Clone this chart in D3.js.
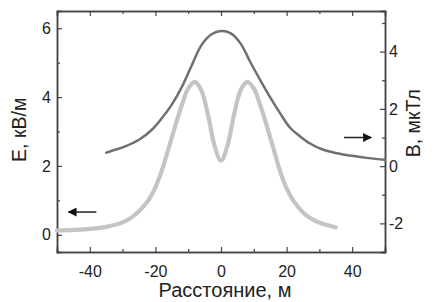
<!DOCTYPE html>
<html>
<head>
<meta charset="utf-8">
<script src="https://cdn.jsdelivr.net/npm/d3@7"></script>
<style>
  body { margin: 0; background: #fff; }
  text { font-family: "Liberation Sans", Arial, sans-serif; fill: #222; }
</style>
</head>
<body>
<svg class="chart"></svg>
<script>
// E field (left axis), kV/m
var eX = [-50, -45, -40, -35, -30, -27, -24, -22, -20, -18, -16, -14, -12, -10, -8, -6, -4, -2, 0,
          2, 4, 6, 8, 10, 12, 14, 16, 18, 20, 22, 25, 28, 31, 35];
var eY = [0.12, 0.14, 0.17, 0.23, 0.36, 0.52, 0.78, 1.02, 1.38, 1.88, 2.5, 3.15, 3.75, 4.25, 4.44, 4.2, 3.5, 2.6, 2.15,
          2.6, 3.5, 4.2, 4.44, 4.25, 3.75, 3.15, 2.5, 1.85, 1.35, 1.0, 0.65, 0.44, 0.32, 0.22];
// B field (right axis), uT
var bX = [-35, -32, -29, -25, -21, -18, -15, -12, -9, -6, -3, 0, 3, 6, 9, 12, 15, 18, 21, 24, 27, 31, 35, 40, 45, 50];
var bY = [0.47, 0.58, 0.7, 0.92, 1.28, 1.68, 2.15, 2.75, 3.5, 4.22, 4.6, 4.72, 4.64, 4.28, 3.62, 3.0, 2.4, 1.85,
          1.35, 1.05, 0.8, 0.58, 0.46, 0.36, 0.28, 0.22];

var xTicks = [-40, -20, 0, 20, 40], xMinor = [-30, -10, 10, 30];
var eTicks = [0, 2, 4, 6], eMinor = [1, 3, 5];
var bTicks = [-2, 0, 2, 4], bMinor = [-3, -1, 1, 3, 5];

var margin = {top: 11, right: 49, bottom: 50, left: 57},
    width = 434 - margin.left - margin.right,
    height = 302 - margin.top - margin.bottom;

var chart = d3.select('.chart').attr('width', 434).attr('height', 302);
var g = chart.append('g').attr('transform', 'translate(' + margin.left + ',' + margin.top + ')');

var x = d3.scaleLinear().domain([-50, 50]).range([0, width]),
    yE = d3.scaleLinear().domain([-0.5, 6.5]).range([height, 0]),
    yB = d3.scaleLinear().domain([-3, 5.42]).range([height, 0]);

// plain hyphen minus like the original
function fmt(d) { return String(d); }

function styleAxis(sel) {
  sel.select('.domain').attr('stroke', '#444').attr('stroke-width', 1.5);
  sel.selectAll('.tick line').attr('stroke', '#444').attr('stroke-width', 1.2);
  sel.selectAll('.tick text').style('font-size', '16px').attr('fill', '#222');
}

// minor ticks (no labels)
g.append('g').attr('transform', 'translate(0,' + height + ')')
  .call(d3.axisBottom(x).tickValues(xMinor).tickSize(-3).tickFormat('')).call(styleAxis);
g.append('g').call(d3.axisTop(x).tickValues(xMinor).tickSize(-3).tickFormat('')).call(styleAxis);
g.append('g').call(d3.axisLeft(yE).tickValues(eMinor).tickSize(-3).tickFormat('')).call(styleAxis);
g.append('g').attr('transform', 'translate(' + width + ',0)')
  .call(d3.axisRight(yB).tickValues(bMinor).tickSize(-3).tickFormat('')).call(styleAxis);

// major axes
g.append('g').attr('transform', 'translate(0,' + height + ')')
  .call(d3.axisBottom(x).tickValues(xTicks).tickSize(-5).tickPadding(13.5).tickFormat(fmt))
  .call(styleAxis);
g.append('g')
  .call(d3.axisTop(x).tickValues(xTicks).tickSize(-5).tickFormat(''))
  .call(styleAxis);
g.append('g')
  .call(d3.axisLeft(yE).tickValues(eTicks).tickSize(-5).tickPadding(6).tickFormat(fmt))
  .call(styleAxis);
g.append('g').attr('transform', 'translate(' + width + ',0)')
  .call(d3.axisRight(yB).tickValues(bTicks).tickSize(-5).tickPadding(4).tickFormat(fmt))
  .call(styleAxis);

// curves
var lineE = d3.line().curve(d3.curveCatmullRom)
  .x(function(d, i) { return x(eX[i]); })
  .y(function(d) { return yE(d); });
var lineB = d3.line().curve(d3.curveCatmullRom)
  .x(function(d, i) { return x(bX[i]); })
  .y(function(d) { return yB(d); });

g.append('path').datum(eY).attr('d', lineE)
  .attr('fill', 'none').attr('stroke', '#c4c4c4').attr('stroke-width', 4.2).attr('stroke-linecap', 'round');
g.append('path').datum(bY).attr('d', lineB)
  .attr('fill', 'none').attr('stroke', '#707070').attr('stroke-width', 2.5).attr('stroke-linecap', 'round');

// arrows pointing to each curve's axis
var defs = chart.append('defs');
defs.append('marker').attr('id', 'ah').attr('viewBox', '0 0 10 10').attr('refX', 9).attr('refY', 5)
  .attr('markerWidth', 6).attr('markerHeight', 6).attr('orient', 'auto')
  .append('path').attr('d', 'M0,0L10,5L0,10z').attr('fill', '#111');

g.append('line').attr('x1', x(-38)).attr('x2', x(-46.5)).attr('y1', yE(0.66)).attr('y2', yE(0.66))
  .attr('stroke', '#222').attr('stroke-width', 1.5).attr('marker-end', 'url(#ah)');
g.append('line').attr('x1', x(37.5)).attr('x2', x(45.8)).attr('y1', yB(1.0)).attr('y2', yB(1.0))
  .attr('stroke', '#222').attr('stroke-width', 1.5).attr('marker-end', 'url(#ah)');

// axis titles
chart.append('text')
  .attr('transform', 'translate(' + 26 + ',' + (margin.top + yE(3.05)) + ') rotate(-90)')
  .attr('text-anchor', 'middle').style('font-size', '19.5px').text('E, кВ/м');
chart.append('text')
  .attr('transform', 'translate(' + 420 + ',' + (margin.top + yB(1.5)) + ') rotate(-90)')
  .attr('text-anchor', 'middle').style('font-size', '19.5px').text('В, мкТл');
chart.append('text')
  .attr('x', 225).attr('y', 297)
  .attr('text-anchor', 'middle').style('font-size', '20px').text('Расстояние, м');
</script>
</body>
</html>
